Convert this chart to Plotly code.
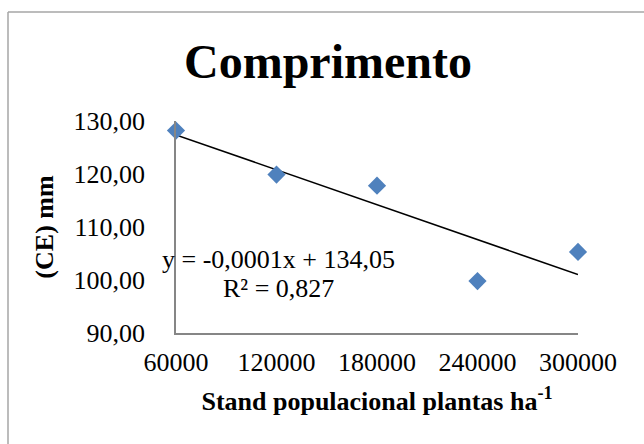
import numpy as np
import plotly.graph_objects as go

# Data
stand = [60000, 120000, 180000, 240000, 300000]
comprimento = [128.2, 119.9, 117.8, 99.8, 105.3]
x_ticks = [60000, 120000, 180000, 240000, 300000]
y_ticks = [90, 100, 110, 120, 130]
title_text = "Comprimento"
x_title = "Stand populacional plantas ha<sup>-1</sup>"
y_title = "(CE) mm"
eq_line1 = "y = -0,0001x + 134,05"
eq_line2 = "R² = 0,827"

FONT = "Times New Roman, Liberation Serif, serif"

# Linear trend from data
slope, intercept = np.polyfit(stand, comprimento, 1)
trend_x = [min(stand), max(stand)]
trend_y = [slope * v + intercept for v in trend_x]

fig = go.Figure()
fig.add_trace(go.Scatter(
    x=trend_x, y=trend_y, mode="lines",
    line=dict(color="black", width=1.6),
    showlegend=False, hoverinfo="skip", cliponaxis=False,
))
fig.add_trace(go.Scatter(
    x=stand, y=comprimento, mode="markers",
    marker=dict(symbol="diamond", size=14, color="#4F81BD"),
    showlegend=False, cliponaxis=False,
))

PW, PH = 402, 212
fig.update_layout(
    width=644, height=444,
    margin=dict(l=176, r=66, t=121, b=111, autoexpand=False),
    paper_bgcolor="white", plot_bgcolor="white",
    separators=", ",
    font=dict(family=FONT, size=26, color="black"),
    title=dict(text="<b>" + title_text + "</b>", x=328 / 644, xref="container", xanchor="center",
               y=1 - 61 / 444, yref="container", yanchor="middle",
               font=dict(family=FONT, size=48, color="black")),
    xaxis=dict(
        range=[60000, 300000], tickvals=x_ticks, tickformat="d",
        showgrid=False, zeroline=False,
        showline=True, linecolor="#868686", linewidth=1.5,
        ticks="", ticklabelstandoff=5,
        title=dict(text="<b>" + x_title + "</b>", standoff=16,
                   font=dict(family=FONT, size=26)),
    ),
    yaxis=dict(
        range=[90, 130], tickvals=y_ticks, tickformat=".2f",
        showgrid=False, zeroline=False,
        showline=True, linecolor="#868686", linewidth=1.5,
        ticks="", ticklabelstandoff=24,
        title=dict(text="<b>" + y_title + "</b>", standoff=12,
                   font=dict(family=FONT, size=26)),
    ),
    annotations=[
        dict(text=eq_line1, xref="paper", yref="paper",
             x=(278 - 176) / PW, y=(333 - 259) / PH,
             xanchor="center", yanchor="middle", showarrow=False,
             font=dict(family=FONT, size=26, color="black")),
        dict(text=eq_line2, xref="paper", yref="paper",
             x=(278 - 176) / PW, y=(333 - 288) / PH,
             xanchor="center", yanchor="middle", showarrow=False,
             font=dict(family=FONT, size=26, color="black")),
    ],
    shapes=[
        dict(type="line", xref="paper", yref="paper",
             x0=(8 - 176) / PW, x1=(700 - 176) / PW,
             y0=(333 - 12) / PH, y1=(333 - 12) / PH,
             line=dict(color="#A6A6A6", width=1.5)),
        dict(type="line", xref="paper", yref="paper",
             x0=(8 - 176) / PW, x1=(8 - 176) / PW,
             y0=(333 - 12) / PH, y1=(333 - 500) / PH,
             line=dict(color="#A6A6A6", width=1.5)),
    ],
)

fig.write_html("out.html", config={"displayModeBar": False},
               post_script="document.body.style.margin='0';document.body.style.overflow='hidden';")
